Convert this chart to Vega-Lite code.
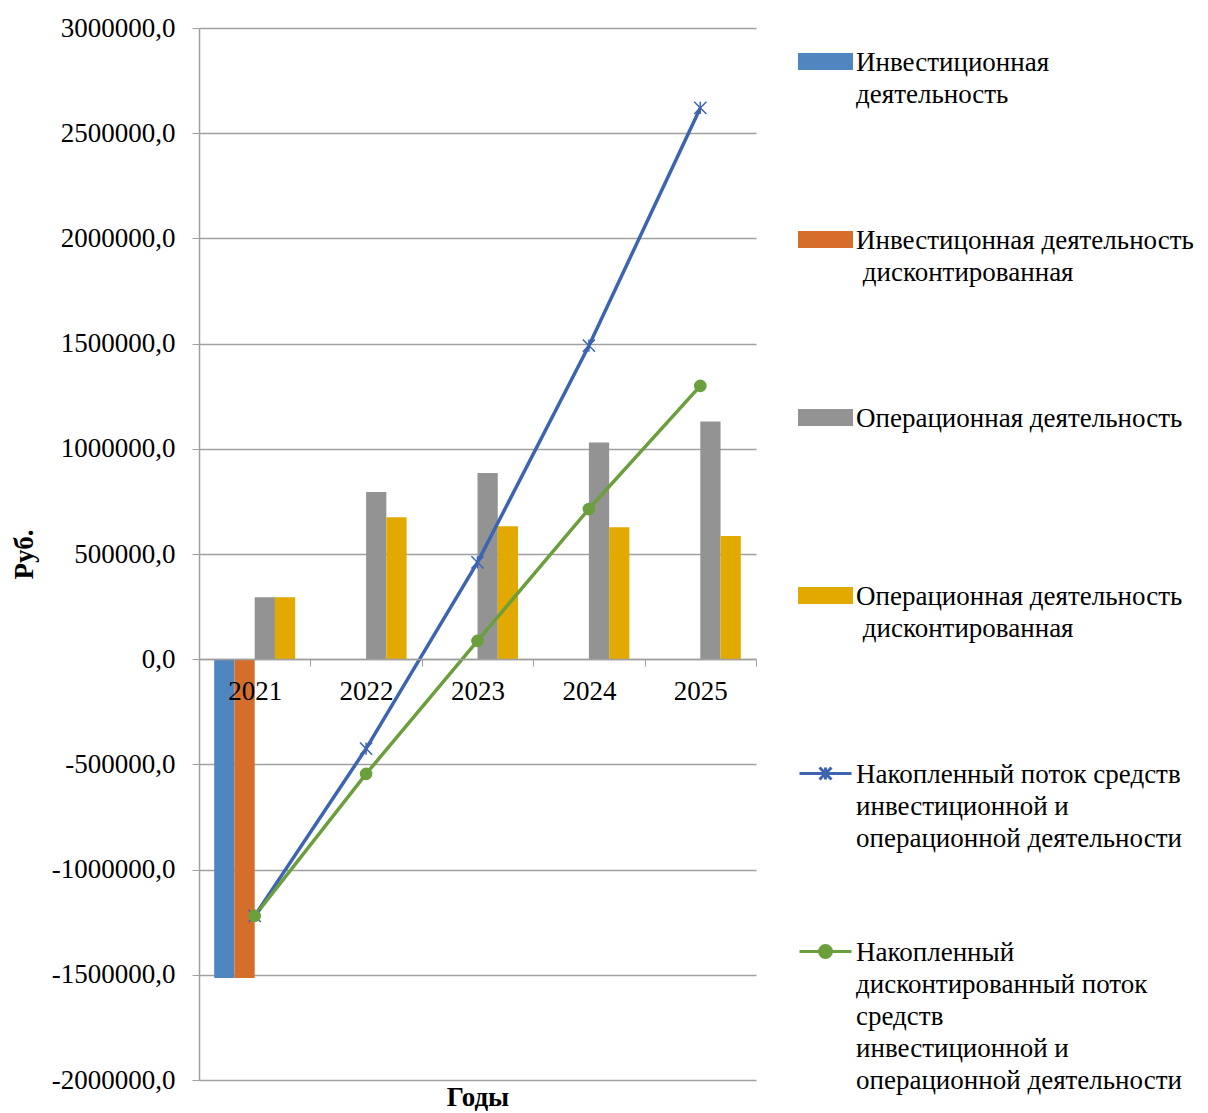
{
  "$schema": "https://vega.github.io/schema/vega-lite/v6.json",
  "width": 557,
  "height": 1052,
  "autosize": {"type": "none"},
  "padding": {"left": 199, "top": 28, "right": 452, "bottom": 33},
  "background": "white",
  "config": {"view": {"stroke": null}, "font": "Liberation Serif"},
  "datasets": {
    "bars": [
      {"year": "2021", "series": "Инвестиционная деятельность", "value": -1515000},
      {"year": "2021", "series": "Инвестицонная деятельность дисконтированная", "value": -1515000},
      {"year": "2021", "series": "Операционная деятельность", "value": 295000},
      {"year": "2021", "series": "Операционная деятельность дисконтированная", "value": 295000},
      {"year": "2022", "series": "Операционная деятельность", "value": 795000},
      {"year": "2022", "series": "Операционная деятельность дисконтированная", "value": 675000},
      {"year": "2023", "series": "Операционная деятельность", "value": 885000},
      {"year": "2023", "series": "Операционная деятельность дисконтированная", "value": 632000},
      {"year": "2024", "series": "Операционная деятельность", "value": 1030000},
      {"year": "2024", "series": "Операционная деятельность дисконтированная", "value": 627000},
      {"year": "2025", "series": "Операционная деятельность", "value": 1130000},
      {"year": "2025", "series": "Операционная деятельность дисконтированная", "value": 585000}
    ],
    "lines": [
      {"year": "2021", "series": "Накопленный поток средств инвестиционной и операционной деятельности", "value": -1220000},
      {"year": "2022", "series": "Накопленный поток средств инвестиционной и операционной деятельности", "value": -425000},
      {"year": "2023", "series": "Накопленный поток средств инвестиционной и операционной деятельности", "value": 460000},
      {"year": "2024", "series": "Накопленный поток средств инвестиционной и операционной деятельности", "value": 1490000},
      {"year": "2025", "series": "Накопленный поток средств инвестиционной и операционной деятельности", "value": 2620000},
      {"year": "2021", "series": "Накопленный дисконтированный поток средств инвестиционной и операционной деятельности", "value": -1220000},
      {"year": "2022", "series": "Накопленный дисконтированный поток средств инвестиционной и операционной деятельности", "value": -545000},
      {"year": "2023", "series": "Накопленный дисконтированный поток средств инвестиционной и операционной деятельности", "value": 87000},
      {"year": "2024", "series": "Накопленный дисконтированный поток средств инвестиционной и операционной деятельности", "value": 714000},
      {"year": "2025", "series": "Накопленный дисконтированный поток средств инвестиционной и операционной деятельности", "value": 1299000}
    ]
  },
  "encoding": {
    "x": {
      "field": "year",
      "type": "nominal",
      "scale": {"paddingInner": 0, "paddingOuter": 0},
      "axis": {
        "orient": "bottom",
        "offset": -421,
        "zindex": 1,
        "labelAngle": 0,
        "labelFont": "Liberation Serif",
        "labelFontSize": 27,
        "labelColor": "black",
        "labelPadding": 12,
        "tickSize": 7,
        "tickBand": "extent",
        "tickColor": "#A0A0A0",
        "domainColor": "#A0A0A0",
        "domainWidth": 1.5,
        "grid": false,
        "title": "Годы",
        "titleFont": "Liberation Serif",
        "titleFontSize": 27,
        "titleFontWeight": "bold",
        "titleColor": "black",
        "titleY": 438,
        "titleBaseline": "middle"
      }
    },
    "y": {
      "field": "value",
      "type": "quantitative",
      "scale": {"domain": [-2000000, 3000000], "nice": false, "zero": false},
      "axis": {
        "values": [-2000000, -1500000, -1000000, -500000, 0, 500000, 1000000, 1500000, 2000000, 2500000, 3000000],
        "labelExpr": "datum.value + ',0'",
        "labelFont": "Liberation Serif",
        "labelFontSize": 27,
        "labelColor": "black",
        "labelPadding": 17,
        "tickSize": 7,
        "tickColor": "#A0A0A0",
        "domainColor": "#A0A0A0",
        "domainWidth": 1.5,
        "grid": true,
        "gridColor": "#A0A0A0",
        "gridWidth": 1.5,
        "title": "Руб.",
        "titleFont": "Liberation Serif",
        "titleFontSize": 27,
        "titleFontWeight": "bold",
        "titleColor": "black",
        "titleAngle": -90,
        "titleX": -175,
        "titleY": 526,
        "titleAlign": "center",
        "titleBaseline": "middle"
      }
    }
  },
  "layer": [
    {
      "data": {"name": "bars"},
      "mark": {"type": "bar", "strokeWidth": 0},
      "encoding": {
        "xOffset": {
          "field": "series",
          "type": "nominal",
          "scale": {
            "domain": ["Инвестиционная деятельность", "Инвестицонная деятельность дисконтированная", "Операционная деятельность", "Операционная деятельность дисконтированная"],
            "paddingInner": 0,
            "paddingOuter": 0.75
          }
        },
        "color": {
          "field": "series",
          "type": "nominal",
          "scale": {
            "domain": [
              "Инвестиционная деятельность",
              "Инвестицонная деятельность дисконтированная",
              "Операционная деятельность",
              "Операционная деятельность дисконтированная",
              "Накопленный поток средств инвестиционной и операционной деятельности",
              "Накопленный дисконтированный поток средств инвестиционной и операционной деятельности"
            ],
            "range": ["#4F86BF", "#D46E2A", "#939393", "#E2AA00", "#3D64B0", "#6B9E3C"]
          },
          "legend": {
            "orient": "none",
            "legendX": 599,
            "legendY": 6,
            "title": null,
            "padding": 0,
            "symbolSize": 2704,
            "labelFont": "Liberation Serif",
            "labelFontSize": 27,
            "labelColor": "black",
            "labelLimit": 600,
            "labelOffset": 3,
            "labelBaseline": "alphabetic",
            "rowPadding": 8,
            "labelExpr": "[['Инвестиционная', 'деятельность', '', '', ''], ['Инвестицонная деятельность', '\u200b\u00a0дисконтированная', '', '', ''], ['Операционная деятельность', '', '', '', ''], ['Операционная деятельность', '\u200b\u00a0дисконтированная', '', '', ''], ['Накопленный поток средств', 'инвестиционной и', 'операционной деятельности', '', ''], ['Накопленный', 'дисконтированный поток', 'средств', 'инвестиционной и', 'операционной деятельности']][indexof(domain('color'), datum.value)]",
            "encode": {
              "symbols": {
                "update": {
                  "shape": {"signal": "indexof(domain('color'), datum.value) < 4 ? 'M-1,-0.27H1V0.27H-1Z' : indexof(domain('color'), datum.value) == 4 ? 'M-1,0H1M-0.23,-0.23L0.23,0.23M-0.23,0.23L0.23,-0.23M0,-0.23V0.23' : 'M-1,0H1M-0.23,0A0.23,0.23,0,1,1,0.23,0A0.23,0.23,0,1,1,-0.23,0Z'"},
                  "fill": {"signal": "indexof(domain('color'), datum.value) == 4 ? 'transparent' : scale('color', datum.value)"},
                  "stroke": {"signal": "indexof(domain('color'), datum.value) < 4 ? 'transparent' : scale('color', datum.value)"},
                  "strokeWidth": {"value": 3},
                  "opacity": {"value": 1}
                }
              },
              "labels": {
                "update": {
                  "dy": {"value": 9},
                  "lineHeight": {"value": 32}
                }
              }
            }
          }
        }
      }
    },
    {
      "data": {"name": "lines"},
      "mark": {"type": "line", "strokeWidth": 3.5},
      "encoding": {
        "color": {"field": "series", "type": "nominal"}
      }
    },
    {
      "data": {"name": "lines"},
      "transform": [{"filter": "datum.series == 'Накопленный поток средств инвестиционной и операционной деятельности'"}],
      "mark": {"type": "point", "shape": "M-1,-1L1,1M-1,1L1,-1M0,-1L0,1", "size": 150, "filled": false, "strokeWidth": 1.5, "opacity": 1},
      "encoding": {
        "color": {"field": "series", "type": "nominal"}
      }
    },
    {
      "data": {"name": "lines"},
      "transform": [{"filter": "datum.series == 'Накопленный дисконтированный поток средств инвестиционной и операционной деятельности'"}],
      "mark": {"type": "point", "shape": "circle", "size": 160, "filled": true, "opacity": 1},
      "encoding": {
        "color": {"field": "series", "type": "nominal"}
      }
    }
  ]
}
